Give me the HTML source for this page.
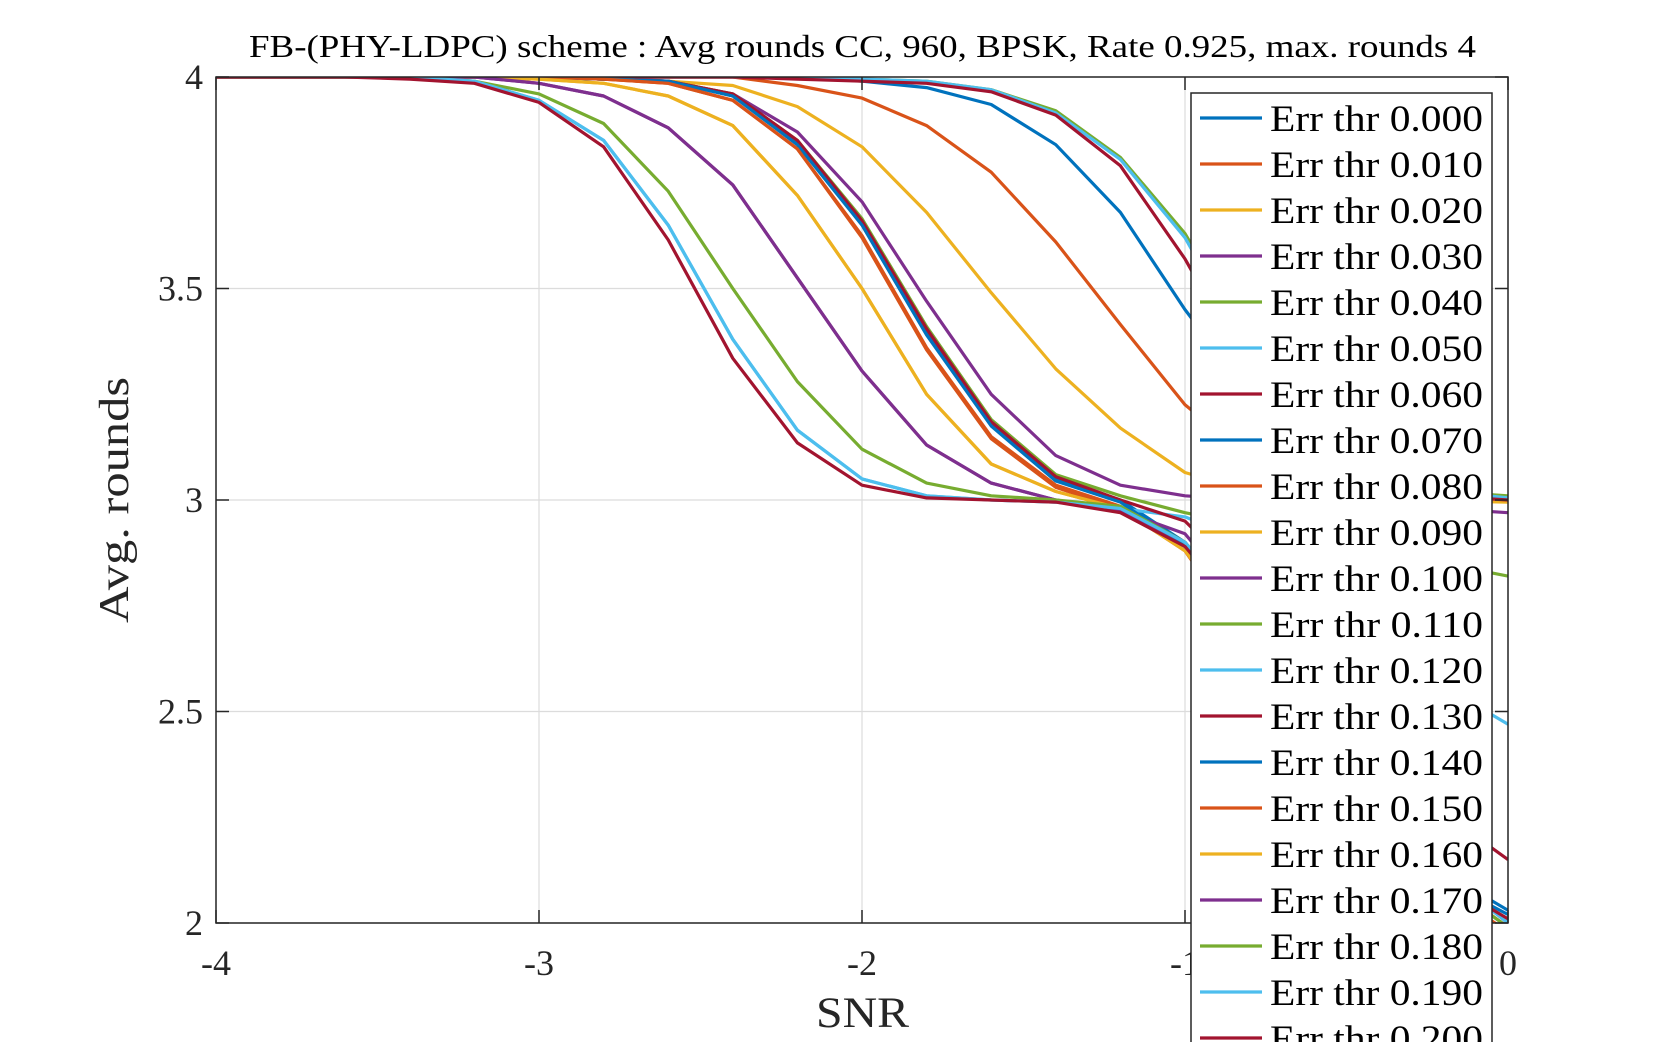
<!DOCTYPE html>
<html><head><meta charset="utf-8"><style>
html,body{margin:0;padding:0;background:#fff;}
svg{display:block;font-family:"Liberation Serif","DejaVu Serif",serif;}
</style></head><body>
<svg id="chart" width="1667" height="1042" viewBox="0 0 1667 1042" xmlns="http://www.w3.org/2000/svg">
<defs><clipPath id="plotclip"><rect x="216" y="77" width="1292" height="846"/></clipPath></defs>
<rect x="0" y="0" width="1667" height="1042" fill="#fff"/>
<g id="grid"></g>
<g id="lines" clip-path="url(#plotclip)"></g>
<rect x="216" y="77" width="1292" height="846" fill="none" stroke="#262626" stroke-width="1.5"/>
<g id="ticks"></g>
<text x="249" y="57" textLength="1227" lengthAdjust="spacingAndGlyphs" font-size="32" fill="#000">FB-(PHY-LDPC) scheme : Avg rounds CC, 960, BPSK, Rate 0.925, max. rounds 4</text>
<text x="816" y="1027" textLength="93" lengthAdjust="spacingAndGlyphs" font-size="43" fill="#262626">SNR</text>
<text transform="translate(128,623) rotate(-90)" textLength="246" lengthAdjust="spacingAndGlyphs" font-size="42" fill="#262626">Avg. rounds</text>
<g id="legend"></g>
</svg>
<script>
const snr = [-4,-3.8,-3.6,-3.4,-3.2,-3,-2.8,-2.6,-2.4,-2.2,-2,-1.8,-1.6,-1.4,-1.2,-1,-0.8,-0.6,-0.4,-0.2,0];
const seriesNames = ["Err thr 0.000","Err thr 0.010","Err thr 0.020","Err thr 0.030","Err thr 0.040","Err thr 0.050","Err thr 0.060","Err thr 0.070","Err thr 0.080","Err thr 0.090","Err thr 0.100","Err thr 0.110","Err thr 0.120","Err thr 0.130","Err thr 0.140","Err thr 0.150","Err thr 0.160","Err thr 0.170","Err thr 0.180","Err thr 0.190","Err thr 0.200"];
const s000 = [4,4,4,4,4,4,4,4,4,4,3.99,3.975,3.935,3.84,3.68,3.45,3.25,3.12,3.04,3.01,3.0];
const s010 = [4,4,4,4,4,4,4,4,4,3.98,3.95,3.885,3.775,3.61,3.415,3.225,3.1,3.04,3.015,3.005,3.0];
const s020 = [4,4,4,4,4,4,3.995,3.99,3.98,3.93,3.835,3.68,3.49,3.31,3.17,3.065,3.02,3.005,3.0,2.998,2.995];
const s030 = [4,4,4,4,4,4,4,3.99,3.96,3.87,3.705,3.47,3.25,3.105,3.035,3.01,3.0,2.995,2.99,2.98,2.97];
const s040 = [4,4,4,4,4,4,4,4,4,3.998,3.995,3.99,3.97,3.92,3.81,3.63,3.37,3.16,3.06,3.02,3.01];
const s050 = [4,4,4,4,4,4,4,4,4,3.998,3.995,3.99,3.97,3.915,3.805,3.62,3.35,3.15,3.05,3.02,3.005];
const s060 = [4,4,4,4,4,4,4,4,4,3.995,3.99,3.985,3.965,3.91,3.79,3.57,3.3,3.12,3.04,3.01,3.0];
const s070 = [4,4,4,4,4,4,3.995,3.99,3.955,3.845,3.655,3.4,3.18,3.05,3.0,2.9,2.72,2.5,2.3,2.12,2.03];
const s080 = [4,4,4,4,4,4,3.995,3.985,3.945,3.83,3.625,3.36,3.15,3.035,2.985,2.88,2.68,2.45,2.24,2.08,1.98];
const s090 = [4,4,4,4,4,3.995,3.985,3.955,3.885,3.72,3.5,3.25,3.085,3.02,2.98,2.89,2.7,2.48,2.26,2.08,1.97];
const s100 = [4,4,4,4,4,3.985,3.955,3.88,3.745,3.525,3.305,3.13,3.04,3.0,2.975,2.92,2.74,2.52,2.3,2.12,2.0];
const s110 = [4,4,4,4,4,4,3.995,3.99,3.96,3.85,3.665,3.41,3.19,3.06,3.01,2.97,2.94,2.91,2.88,2.85,2.82];
const s120 = [4,4,4,4,3.99,3.945,3.85,3.65,3.38,3.165,3.05,3.01,3.0,2.995,2.98,2.96,2.9,2.8,2.68,2.56,2.47];
const s130 = [4,4,4,4,4,4,3.995,3.99,3.96,3.85,3.66,3.405,3.185,3.055,3.0,2.95,2.8,2.6,2.42,2.26,2.15];
const s140 = [4,4,4,4,4,4,3.995,3.99,3.955,3.84,3.65,3.39,3.175,3.045,2.995,2.89,2.7,2.48,2.27,2.1,2.02];
const s150 = [4,4,4,4,4,4,3.995,3.985,3.945,3.83,3.62,3.355,3.145,3.03,2.98,2.88,2.66,2.42,2.2,2.05,1.97];
const s160 = [4,4,4,4,4,3.995,3.985,3.955,3.885,3.72,3.5,3.25,3.085,3.02,2.98,2.88,2.68,2.45,2.22,2.05,1.96];
const s170 = [4,4,4,4,4,3.985,3.955,3.88,3.745,3.525,3.305,3.13,3.04,3.0,2.975,2.9,2.72,2.5,2.28,2.1,1.99];
const s180 = [4,4,4,4,3.99,3.96,3.89,3.73,3.5,3.28,3.12,3.04,3.01,3.0,2.985,2.9,2.72,2.5,2.28,2.1,1.99];
const s190 = [4,4,4,4,3.99,3.945,3.85,3.65,3.38,3.165,3.05,3.01,3.0,2.995,2.98,2.9,2.72,2.5,2.3,2.12,2.0];
const s200 = [4,4,4,3.995,3.985,3.94,3.835,3.615,3.335,3.135,3.035,3.005,3.0,2.995,2.97,2.89,2.71,2.5,2.28,2.1,2.01];
const xTicks = [-4,-3,-2,-1,0];
const xTickLabels = ["-4","-3","-2","-1","0"];
const yTicks = [2,2.5,3,3.5,4];
const yTickLabels = ["2","2.5","3","3.5","4"];

const allSeries = [s000,s010,s020,s030,s040,s050,s060,s070,s080,s090,s100,s110,s120,s130,s140,s150,s160,s170,s180,s190,s200];
const palette = ["#0072BD","#D95319","#EDB120","#7E2F8E","#77AC30","#4DBEEE","#A2142F"];
const X0=216,X1=1508,Y0=923,Y1=77;
function xs(v){return X0+(v-(-4))/(0-(-4))*(X1-X0);}
function ys(v){return Y0-(v-2)/(4-2)*(Y0-Y1);}
const NS="http://www.w3.org/2000/svg";
function mk(tag,attrs){const e=document.createElementNS(NS,tag);for(const k in attrs)e.setAttribute(k,attrs[k]);return e;}
const grid=document.getElementById('grid'),ticks=document.getElementById('ticks'),lines=document.getElementById('lines'),legend=document.getElementById('legend');
xTicks.forEach((t,i)=>{
  const x=xs(t);
  const g=mk('line',{x1:x,x2:x,y1:Y1,y2:Y0,stroke:'#dcdcdc','stroke-width':1.2});
  
  
  grid.appendChild(g);
  [[Y0,Y0-13],[Y1,Y1+13]].forEach(p=>{const tk=mk('line',{x1:x,x2:x,y1:p[0],y2:p[1],stroke:'#262626','stroke-width':1.5});
    
    
    ticks.appendChild(tk);});
  const tl=mk('text',{x:x,y:975,'text-anchor':'middle','font-size':36,fill:'#262626'});
  
  
  tl.textContent=xTickLabels[i];ticks.appendChild(tl);
});
yTicks.forEach((t,i)=>{
  const y=ys(t);
  const g=mk('line',{x1:X0,x2:X1,y1:y,y2:y,stroke:'#dcdcdc','stroke-width':1.2});
  
  
  grid.appendChild(g);
  [[X0,X0+13],[X1,X1-13]].forEach(p=>{const tk=mk('line',{x1:p[0],x2:p[1],y1:y,y2:y,stroke:'#262626','stroke-width':1.5});
    
    
    ticks.appendChild(tk);});
  const tl=mk('text',{x:203,y:y+12,'text-anchor':'end','font-size':36,fill:'#262626'});
  
  
  tl.textContent=yTickLabels[i];ticks.appendChild(tl);
});
allSeries.forEach((s,k)=>{
  const pts=s.map((v,i)=>xs(snr[i]).toFixed(1)+','+ys(v).toFixed(1)).join(' ');
  const pl=mk('polyline',{points:pts,fill:'none',stroke:palette[k%7],'stroke-width':3.2,'stroke-linejoin':'round'});
  
  
  lines.appendChild(pl);
});
const lb=mk('rect',{x:1191,y:93,width:301,height:1000,fill:'#fff',stroke:'#262626','stroke-width':1.5});


legend.appendChild(lb);
seriesNames.forEach((n,k)=>{
  const y=118+k*46;
  const g=mk('g',{});
  
  
  g.appendChild(mk('line',{x1:1200,x2:1262,y1:y,y2:y,stroke:palette[k%7],'stroke-width':3.2}));
  const t=mk('text',{x:1270,y:y+13,'font-size':37,fill:'#000',textLength:213,lengthAdjust:'spacingAndGlyphs'});
  t.textContent=n;g.appendChild(t);
  legend.appendChild(g);
});
</script>
</body></html>
